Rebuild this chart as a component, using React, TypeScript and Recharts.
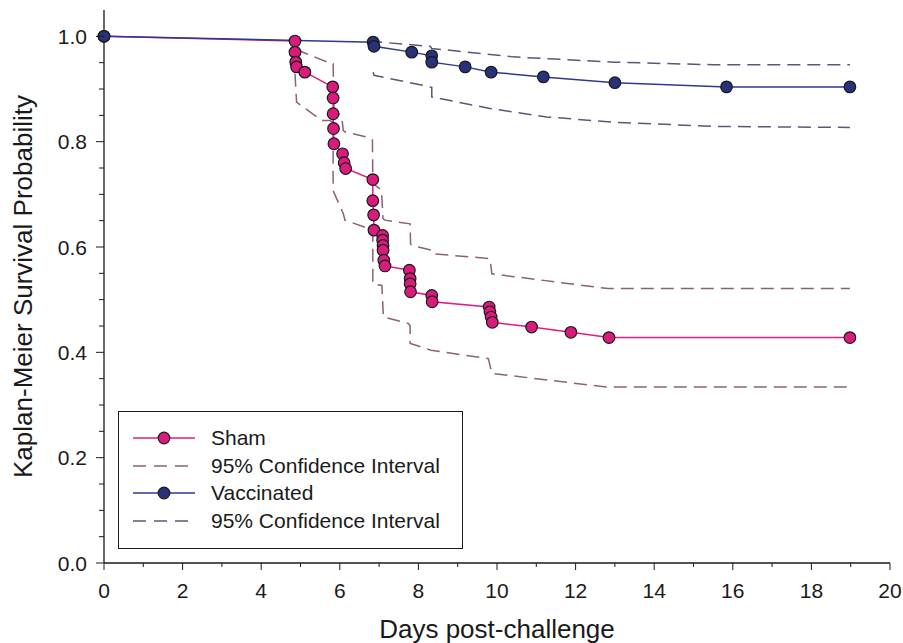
import { LineChart, Line, XAxis, YAxis, Legend } from "recharts";

// Kaplan-Meier estimates
const shamDays = [0, 4.86, 4.86, 4.88, 4.9, 5.11, 5.82, 5.83, 5.83, 5.84, 5.85, 6.07, 6.11, 6.15, 6.84, 6.84, 6.86, 6.87, 7.09, 7.09, 7.1, 7.1, 7.12, 7.15, 7.77, 7.79, 7.79, 7.8, 8.34, 8.35, 9.8, 9.82, 9.85, 9.88, 10.88, 11.88, 12.85, 18.98];
const shamSurv = [1.0, 0.991, 0.97, 0.951, 0.942, 0.932, 0.904, 0.883, 0.853, 0.825, 0.796, 0.777, 0.76, 0.749, 0.728, 0.688, 0.661, 0.632, 0.622, 0.613, 0.603, 0.594, 0.575, 0.564, 0.556, 0.54, 0.53, 0.515, 0.508, 0.496, 0.486, 0.477, 0.467, 0.457, 0.448, 0.438, 0.428, 0.428];

const shamUpDays = [4.88, 5.79, 5.83, 5.85, 6.05, 6.09, 6.15, 6.73, 6.83, 6.84, 7.06, 7.1, 7.15, 7.79, 7.8, 7.83, 8.34, 8.38, 9.82, 9.87, 12.83, 18.98];
const shamUpVal = [0.975, 0.948, 0.948, 0.865, 0.846, 0.821, 0.818, 0.808, 0.803, 0.721, 0.708, 0.654, 0.651, 0.644, 0.606, 0.603, 0.594, 0.587, 0.578, 0.549, 0.521, 0.521];

const shamLoDays = [4.86, 4.9, 5.54, 5.75, 5.83, 5.83, 6.09, 6.13, 6.73, 6.84, 6.84, 7.07, 7.11, 7.74, 7.79, 7.79, 7.96, 8.32, 9.78, 9.87, 12.79, 18.98];
const shamLoVal = [0.929, 0.875, 0.84, 0.84, 0.837, 0.707, 0.663, 0.651, 0.635, 0.632, 0.53, 0.527, 0.467, 0.455, 0.451, 0.417, 0.413, 0.404, 0.388, 0.36, 0.334, 0.334];

const vacDays = [0, 6.85, 6.87, 7.83, 8.34, 8.34, 9.19, 9.85, 11.18, 13.0, 15.84, 18.98];
const vacSurv = [1.0, 0.989, 0.981, 0.97, 0.963, 0.951, 0.942, 0.932, 0.923, 0.912, 0.904, 0.904];

const vacUpDays = [6.85, 6.87, 8.3, 8.34, 10.41, 12.96, 15.5, 18.98];
const vacUpVal = [0.999, 0.99, 0.981, 0.977, 0.961, 0.951, 0.946, 0.946];

const vacLoDays = [6.85, 6.87, 8.12, 8.34, 8.34, 9.82, 11.26, 12.96, 15.5, 18.98];
const vacLoVal = [0.932, 0.926, 0.907, 0.903, 0.885, 0.863, 0.847, 0.837, 0.829, 0.827];

const xTicks = [0, 1, 2, 3, 4, 5, 6, 7, 8, 9, 10, 11, 12, 13, 14, 15, 16, 17, 18, 19, 20];
const yTicks = [0, 0.05, 0.1, 0.15, 0.2, 0.25, 0.3, 0.35, 0.4, 0.45, 0.5, 0.55, 0.6, 0.65, 0.7, 0.75, 0.8, 0.85, 0.9, 0.95, 1.0];

const FONT = '"Liberation Sans", Arial, sans-serif';
const INK = "#1a1a1a";
const SHAM_LINE = "#e01c80";
const SHAM_FILL = "#d81b7c";
const SHAM_CI = "#8d6079";
const VAC_LINE = "#2e3a8c";
const VAC_FILL = "#28317a";
const VAC_CI = "#57587a";

const legendItems = [
  { label: "Sham", color: SHAM_LINE, fill: SHAM_FILL, dashed: false },
  { label: "95% Confidence Interval", color: SHAM_CI, fill: "", dashed: true },
  { label: "Vaccinated", color: VAC_LINE, fill: VAC_FILL, dashed: false },
  { label: "95% Confidence Interval", color: VAC_CI, fill: "", dashed: true },
];

const zip = (xs: number[], ys: number[]) => xs.map((x, i) => ({ x, y: ys[i] }));

const sham = zip(shamDays, shamSurv);
const shamUp = zip(shamUpDays, shamUpVal);
const shamLo = zip(shamLoDays, shamLoVal);
const vac = zip(vacDays, vacSurv);
const vacUp = zip(vacUpDays, vacUpVal);
const vacLo = zip(vacLoDays, vacLoVal);

const isMajorY = (v: number) => Math.abs(v * 5 - Math.round(v * 5)) < 1e-6;

function LeftTick({ x, y, payload }: any) {
  const v = payload.value;
  const major = isMajorY(v);
  return (
    <g>
      <line x1={x - (major ? 8 : 5)} x2={x} y1={y} y2={y} stroke={INK} />
      {major && (
        <text x={x - 17} y={y} dy={7.5} textAnchor="end" fontSize={21} fill={INK} fontFamily={FONT}>
          {v.toFixed(1)}
        </text>
      )}
    </g>
  );
}

function RightTick({ x, y, payload }: any) {
  const major = isMajorY(payload.value);
  return <line x1={x - (major ? 8 : 5)} x2={x} y1={y} y2={y} stroke={INK} />;
}

function BottomTick({ x, y, payload }: any) {
  const v = payload.value;
  const major = v % 2 === 0;
  return (
    <g>
      <line x1={x} x2={x} y1={y} y2={y + (major ? 7 : 4)} stroke={INK} />
      {major && (
        <text x={x} y={y + 35} textAnchor="middle" fontSize={21} fill={INK} fontFamily={FONT}>
          {v}
        </text>
      )}
    </g>
  );
}

function TopTick({ x, y, payload }: any) {
  const major = payload.value % 2 === 0;
  return <line x1={x} x2={x} y1={y} y2={y + (major ? 7 : 5)} stroke={INK} />;
}

function LegendBox() {
  return (
    <div
      style={{
        width: 345,
        height: 138,
        border: `1.5px solid ${INK}`,
        boxSizing: "border-box",
        position: "relative",
        background: "#fff",
        fontFamily: FONT,
        fontSize: 21,
        color: INK,
      }}
    >
      {legendItems.map((it, i) => (
        <div
          key={i}
          style={{ position: "absolute", left: 0, top: 12 + i * 27.5, height: 28, display: "flex", alignItems: "center" }}
        >
          <svg width={92} height={28}>
            {it.dashed ? (
              <line x1={14} x2={74} y1={14} y2={14} stroke={it.color} strokeWidth={1.5} strokeDasharray="13 8" />
            ) : (
              <line x1={14} x2={76} y1={14} y2={14} stroke={it.color} strokeWidth={1.5} />
            )}
            {!it.dashed && <circle cx={45} cy={14} r={5.8} fill={it.fill} stroke={INK} strokeWidth={1.2} />}
          </svg>
          <span style={{ lineHeight: "28px", whiteSpace: "nowrap" }}>{it.label}</span>
        </div>
      ))}
    </div>
  );
}

const ciProps = { type: "linear" as const, dataKey: "y", dot: false, activeDot: false, strokeWidth: 1.5, strokeDasharray: "13 7", isAnimationActive: false, legendType: "none" as const };

export default function App() {
  return (
    <div style={{ position: "absolute", left: 0, top: 0, width: 903, height: 643, background: "#fff" }}>
      <LineChart width={903} height={643} margin={{ top: 10, right: 13, left: 44, bottom: 50 }}>
        <XAxis
          xAxisId="b"
          type="number"
          dataKey="x"
          domain={[0, 20]}
          ticks={xTicks}
          interval={0}
          height={30}
          tickSize={0}
          tickMargin={0}
          tick={<BottomTick />}
          axisLine={{ stroke: INK, strokeWidth: 1.3 }}
          label={({ viewBox }: any) => (
            <text x={viewBox.x + viewBox.width / 2} y={viewBox.y + 75} textAnchor="middle" fontSize={26} fill={INK} fontFamily={FONT}>
              Days post-challenge
            </text>
          )}
        />
        <XAxis
          xAxisId="t"
          orientation="top"
          type="number"
          dataKey="x"
          domain={[0, 20]}
          ticks={xTicks}
          interval={0}
          height={0}
          tickSize={0}
          tickMargin={0}
          tick={<TopTick />}
          axisLine={{ stroke: INK, strokeWidth: 1.3 }}
        />
        <YAxis
          yAxisId="l"
          type="number"
          domain={[0, 1.05]}
          ticks={yTicks}
          interval={0}
          width={60}
          tickSize={0}
          tickMargin={0}
          tick={<LeftTick />}
          axisLine={{ stroke: INK, strokeWidth: 1.3 }}
          label={({ viewBox }: any) => {
            const cx = 32;
            const cy = viewBox.y + viewBox.height / 2;
            return (
              <text x={cx} y={cy} transform={`rotate(-90 ${cx} ${cy})`} textAnchor="middle" fontSize={26} fill={INK} fontFamily={FONT}>
                Kaplan-Meier Survival Probability
              </text>
            );
          }}
        />
        <YAxis
          yAxisId="r"
          orientation="right"
          type="number"
          domain={[0, 1.05]}
          ticks={yTicks}
          interval={0}
          width={0}
          tickSize={0}
          tickMargin={0}
          tick={<RightTick />}
          axisLine={{ stroke: INK, strokeWidth: 1.3 }}
        />
        <Legend
          layout="vertical"
          align="center"
          verticalAlign="middle"
          content={() => <LegendBox />}
          wrapperStyle={{ left: 118, top: 411, width: 345, height: 138 }}
        />
        <Line {...ciProps} xAxisId="b" yAxisId="l" data={shamUp} stroke={SHAM_CI} />
        <Line {...ciProps} xAxisId="b" yAxisId="l" data={shamLo} stroke={SHAM_CI} />
        <Line {...ciProps} xAxisId="b" yAxisId="l" data={vacUp} stroke={VAC_CI} />
        <Line {...ciProps} xAxisId="b" yAxisId="l" data={vacLo} stroke={VAC_CI} />
        <Line
          xAxisId="b"
          yAxisId="l"
          data={sham}
          dataKey="y"
          type="linear"
          stroke={SHAM_LINE}
          strokeWidth={1.5}
          dot={{ r: 5.8, fill: SHAM_FILL, stroke: INK, strokeWidth: 1.2 }}
          activeDot={false}
          isAnimationActive={false}
        />
        <Line
          xAxisId="b"
          yAxisId="l"
          data={vac}
          dataKey="y"
          type="linear"
          stroke={VAC_LINE}
          strokeWidth={1.5}
          dot={{ r: 5.8, fill: VAC_FILL, stroke: INK, strokeWidth: 1.2 }}
          activeDot={false}
          isAnimationActive={false}
        />
      </LineChart>
    </div>
  );
}
